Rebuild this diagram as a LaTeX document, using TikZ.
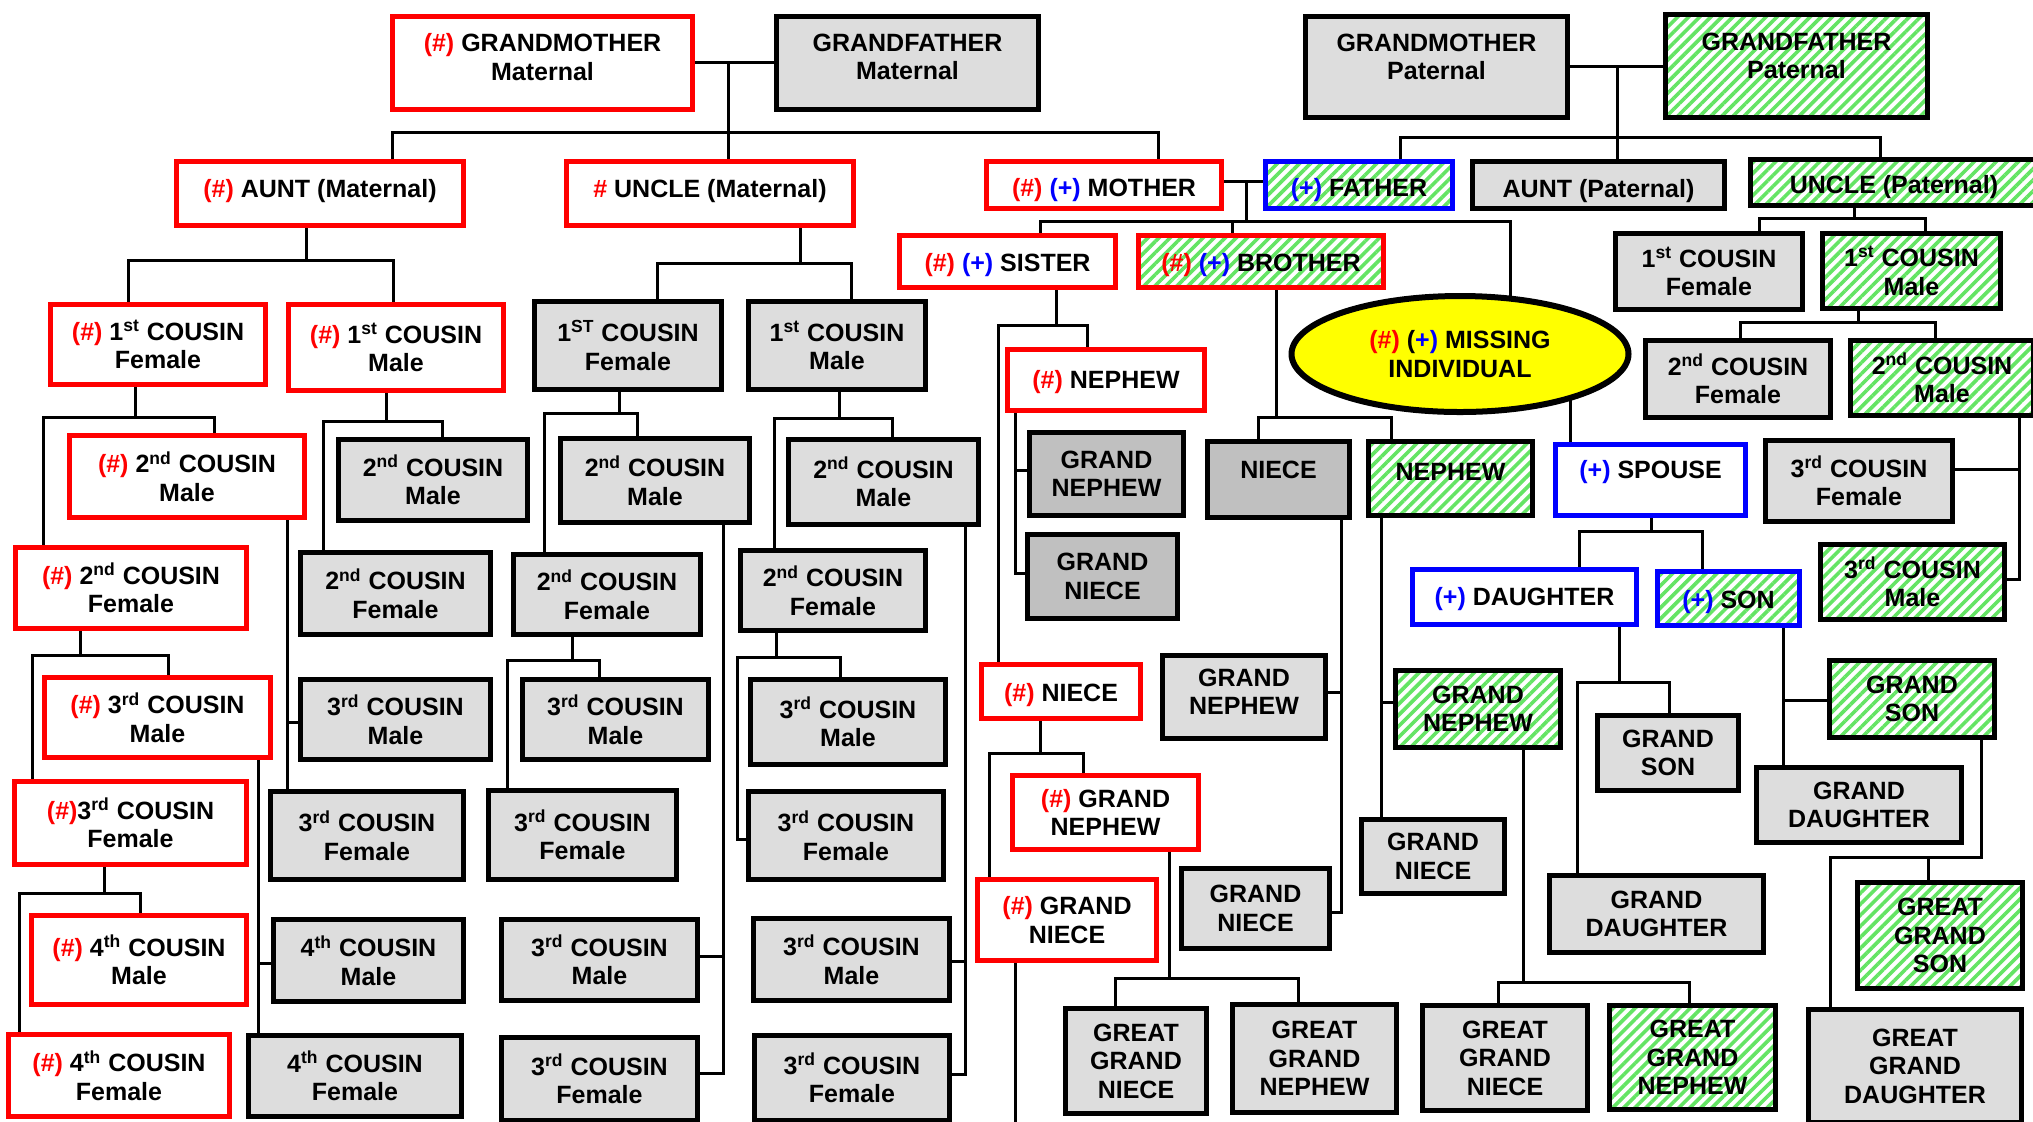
\documentclass[tikz,border=0pt]{standalone}
\usepackage{fontspec}
\setmainfont{Liberation Sans}
\usetikzlibrary{shapes.geometric,patterns.meta,calc}
\pgfdeclarelayer{bg}
\pgfsetlayers{bg,main}
\definecolor{hred}{RGB}{255,0,0}
\definecolor{hblue}{RGB}{0,0,255}
\definecolor{lgray}{RGB}{221,221,221}
\definecolor{dgray}{RGB}{192,192,192}
\definecolor{sgreen}{RGB}{100,228,100}
\definecolor{hyel}{RGB}{255,255,0}
\newcommand\redt[1]{\textcolor{hred}{#1}}
\newcommand\bluet[1]{\textcolor{hblue}{#1}}
\newcommand\sups[1]{\textsuperscript{#1}}
\tikzset{
  box/.style={rectangle, line width=2.5pt, inner sep=0pt},
  redb/.style={box, draw=hred, fill=white},
  blueb/.style={box, draw=hblue, fill=white},
  grayb/.style={box, draw=black, fill=lgray},
  dgrayb/.style={box, draw=black, fill=dgray},
  stripe/.style={preaction={fill=white}, pattern={Lines[angle=45,distance=3.9pt,line width=1.8pt]}, pattern color=sgreen},
  greenb/.style={box, draw=black, stripe},
  redgreenb/.style={box, draw=hred, stripe},
  bluegreenb/.style={box, draw=hblue, stripe},
  txt/.style={align=center, inner sep=0pt, font=\bfseries\fontsize{12.5}{14.25}\selectfont},
  conn/.style={draw=black, line width=1.5pt},
}
% #1 dy (px, down), #2 style, #3 name, #4 x1, #5 y1, #6 x2, #7 y2, #8 text
\newcommand\bx[8][0]{%
  \pgfmathsetmacro\bw{(#6-#4)*0.5-2.5}%
  \pgfmathsetmacro\bh{(#7-#5)*0.5-2.5}%
  \pgfmathsetmacro\bdy{-0.5*(#1)}%
  \node[#2, minimum width=\bw pt, minimum height=\bh pt] (#3) at ({(#4+#6)/2},{(#5+#7)/2}) {};
  \node[txt] (#3-t) at ([yshift=\bdy pt]#3.center) {#8};
}
\begin{document}
\begin{tikzpicture}[x=0.5pt,y=-0.5pt]
\useasboundingbox (0,0) rectangle (2033,1121);
% ---- top generations
\bx[-6]{redb}{gmm}{390}{14}{695}{112}{\redt{(\#)} GRANDMOTHER\\Maternal}
\bx[-6]{grayb}{gfm}{774}{14}{1041}{112}{GRANDFATHER\\Maternal}
\bx[-10]{grayb}{gmp}{1303}{14}{1570}{120}{GRANDMOTHER\\Paternal}
\bx[-10]{greenb}{gfp}{1663}{12}{1930}{120}{GRANDFATHER\\Paternal}
\bx[-2]{redb}{auntm}{174}{159}{466}{228}{\redt{(\#)} AUNT (Maternal)}
\bx[-2]{redb}{unclem}{564}{159}{856}{228}{\redt{\#} UNCLE (Maternal)}
\bx[5]{redb}{mother}{984}{159}{1224}{211}{\redt{(\#)} \bluet{(+)} MOTHER}
\bx[5]{bluegreenb}{father}{1263}{159}{1455}{211}{\bluet{(+)} FATHER}
\bx[6]{grayb}{auntp}{1470}{159}{1727}{211}{AUNT (Paternal)}
\bx[5]{greenb}{unclep}{1748}{157}{2040}{208}{UNCLE (Paternal)}
\bx[4]{redb}{sister}{897}{233}{1118}{290}{\redt{(\#)} \bluet{(+)} SISTER}
\bx[4]{redgreenb}{brother}{1136}{233}{1386}{290}{\redt{(\#)} \bluet{(+)} BROTHER}
% ---- 1st cousins
\bx{redb}{cf1}{48}{302}{268}{387}{\redt{(\#)} 1\sups{st} COUSIN\\Female}
\bx{redb}{cm1}{286}{302}{506}{393}{\redt{(\#)} 1\sups{st} COUSIN\\Male}
\bx{grayb}{uf1}{532}{299}{724}{392}{1\sups{ST} COUSIN\\Female}
\bx{grayb}{um1}{746}{299}{928}{392}{1\sups{st} COUSIN\\Male}
\bx{grayb}{pf1}{1613}{231}{1805}{312}{1\sups{st} COUSIN\\Female}
\bx{greenb}{pm1}{1820}{231}{2003}{311}{1\sups{st} COUSIN\\Male}
% ---- maternal aunt line
\bx{redb}{f2m}{67}{433}{307}{520}{\redt{(\#)} 2\sups{nd} COUSIN\\Male}
\bx{redb}{f2f}{13}{545}{249}{631}{\redt{(\#)} 2\sups{nd} COUSIN\\Female}
\bx{redb}{f3m}{42}{675}{273}{760}{\redt{(\#)} 3\sups{rd} COUSIN\\Male}
\bx{redb}{f3f}{12}{779}{249}{867}{\redt{(\#)}3\sups{rd} COUSIN\\Female}
\bx{redb}{f4m}{29}{913}{249}{1007}{\redt{(\#)} 4\sups{th} COUSIN\\Male}
\bx{redb}{f4f}{6}{1032}{232}{1119}{\redt{(\#)} 4\sups{th} COUSIN\\Female}
\bx{grayb}{m2m}{336}{437}{530}{523}{2\sups{nd} COUSIN\\Male}
\bx{grayb}{m2f}{298}{550}{493}{637}{2\sups{nd} COUSIN\\Female}
\bx{grayb}{g3m}{298}{677}{493}{762}{3\sups{rd} COUSIN\\Male}
\bx{grayb}{g3f}{268}{789}{466}{882}{3\sups{rd} COUSIN\\Female}
\bx{grayb}{g4m}{271}{917}{466}{1004}{4\sups{th} COUSIN\\Male}
\bx{grayb}{g4f}{246}{1033}{464}{1119}{4\sups{th} COUSIN\\Female}
% ---- maternal uncle line
\bx{grayb}{u2m}{558}{436}{752}{525}{2\sups{nd} COUSIN\\Male}
\bx{grayb}{u2f}{511}{552}{703}{637}{2\sups{nd} COUSIN\\Female}
\bx{grayb}{u3m}{520}{677}{711}{762}{3\sups{rd} COUSIN\\Male}
\bx{grayb}{u3f}{486}{788}{679}{882}{3\sups{rd} COUSIN\\Female}
\bx{grayb}{u3m2}{499}{917}{700}{1003}{3\sups{rd} COUSIN\\Male}
\bx{grayb}{u3f2}{499}{1035}{700}{1123}{3\sups{rd} COUSIN\\Female}
\bx{grayb}{v2m}{786}{437}{981}{527}{2\sups{nd} COUSIN\\Male}
\bx{grayb}{v2f}{738}{548}{928}{633}{2\sups{nd} COUSIN\\Female}
\bx{grayb}{v3m}{748}{677}{948}{767}{3\sups{rd} COUSIN\\Male}
\bx{grayb}{v3f}{746}{789}{946}{882}{3\sups{rd} COUSIN\\Female}
\bx{grayb}{v3m2}{751}{916}{952}{1003}{3\sups{rd} COUSIN\\Male}
\bx{grayb}{v3f2}{752}{1033}{952}{1123}{3\sups{rd} COUSIN\\Female}
% ---- sister line
\bx[2]{redb}{nephr}{1005}{347}{1207}{413}{\redt{(\#)} NEPHEW}
\bx{dgrayb}{gnd1}{1027}{430}{1186}{518}{GRAND\\NEPHEW}
\bx{dgrayb}{gni1}{1025}{532}{1180}{621}{GRAND\\NIECE}
\bx[4]{redb}{niecer}{979}{662}{1143}{721}{\redt{(\#)} NIECE}
\bx{redb}{gnr}{1010}{773}{1201}{852}{\redt{(\#)} GRAND\\NEPHEW}
\bx{redb}{gnir}{975}{877}{1159}{963}{\redt{(\#)} GRAND\\NIECE}
\bx{grayb}{ggn1}{1063}{1006}{1209}{1116}{GREAT\\GRAND\\NIECE}
\bx{grayb}{ggnp1}{1230}{1002}{1399}{1115}{GREAT\\GRAND\\NEPHEW}
% ---- missing individual
\node[ellipse, draw=black, line width=3pt, fill=hyel, minimum width=168.5pt, minimum height=58pt, inner sep=0pt] (mi) at (1460,354) {};
\node[txt] (mi-t) at (mi.center) {\redt{(\#)} (\bluet{+)} MISSING\\INDIVIDUAL};
% ---- brother line
\bx[-10]{dgrayb}{nieceb}{1205}{439}{1352}{520}{NIECE}
\bx[-7]{greenb}{nephb}{1366}{439}{1535}{518}{NEPHEW}
\bx[-5]{grayb}{gn2}{1160}{653}{1328}{741}{GRAND\\NEPHEW}
\bx{grayb}{gni2}{1179}{866}{1332}{951}{GRAND\\NIECE}
\bx{greenb}{gn3}{1393}{668}{1563}{750}{GRAND\\NEPHEW}
\bx{grayb}{gni3}{1359}{817}{1507}{896}{GRAND\\NIECE}
\bx{grayb}{ggni3}{1420}{1003}{1590}{1113}{GREAT\\GRAND\\NIECE}
\bx{greenb}{ggnp3}{1607}{1003}{1778}{1112}{GREAT\\GRAND\\NEPHEW}
% ---- own family
\bx[-8]{blueb}{spouse}{1553}{442}{1748}{518}{\bluet{(+)} SPOUSE}
\bx[2]{blueb}{daughter}{1410}{567}{1639}{627}{\bluet{(+)} DAUGHTER}
\bx[4]{bluegreenb}{son}{1655}{569}{1802}{628}{\bluet{(+)} SON}
\bx{grayb}{gs1}{1595}{713}{1741}{793}{GRAND\\SON}
\bx{grayb}{gd1}{1547}{873}{1766}{955}{GRAND\\DAUGHTER}
\bx{greenb}{gs2}{1827}{658}{1997}{740}{GRAND\\SON}
\bx{grayb}{gd2}{1754}{765}{1964}{845}{GRAND\\DAUGHTER}
\bx{greenb}{ggs}{1855}{880}{2025}{991}{GREAT\\GRAND\\SON}
\bx{grayb}{ggd}{1806}{1007}{2024}{1125}{GREAT\\GRAND\\DAUGHTER}
% ---- paternal cousins
\bx{grayb}{pf2}{1643}{338}{1833}{420}{2\sups{nd} COUSIN\\Female}
\bx{greenb}{pm2}{1848}{338}{2036}{418}{2\sups{nd} COUSIN\\Male}
\bx{grayb}{pf3}{1763}{438}{1955}{524}{3\sups{rd} COUSIN\\Female}
\bx{greenb}{pm3}{1818}{542}{2007}{622}{3\sups{rd} COUSIN\\Male}
% ================= connectors
\begin{pgfonlayer}{bg}
\coordinate (gmJ) at (728,62); \coordinate (gmL) at (392,132); \coordinate (gmR) at (1158,132);
\draw[conn] (gmm.east |- gmJ) -- (gfm.west |- gmJ);
\draw[conn] (gmJ) -- (unclem.north -| gmJ);
\draw[conn] (auntm.north -| gmL) -- (gmL) -- (gmR) -- (mother.north -| gmR);
\coordinate (gpJ) at (1617,66); \coordinate (gpL) at (1400,137); \coordinate (gpR) at (1880,137);
\draw[conn] (gmp.east |- gpJ) -- (gfp.west |- gpJ);
\draw[conn] (gpJ) -- (auntp.north -| gpJ);
\draw[conn] (father.north -| gpL) -- (gpL) -- (gpR) -- (unclep.north -| gpR);
\coordinate (pJ) at (1246,181); \coordinate (pL) at (1040,221); \coordinate (pM) at (1232,221); \coordinate (pR) at (1510,221);
\draw[conn] (mother.east |- pJ) -- (father.west |- pJ);
\draw[conn] (pJ) -- (pJ |- pL);
\draw[conn] (sister.north -| pL) -- (pL) -- (pR) -- (mi.center -| pR);
\draw[conn] (brother.north -| pM) -- (pM);
\coordinate (aJ) at (306,260); \coordinate (aL) at (128,260); \coordinate (aR) at (393,260);
\draw[conn] (auntm.south -| aJ) -- (aJ);
\draw[conn] (cf1.north -| aL) -- (aL) -- (aR) -- (cm1.north -| aR);
\coordinate (uJ) at (800,263); \coordinate (uL) at (657,263); \coordinate (uR) at (851,263);
\draw[conn] (unclem.south -| uJ) -- (uJ);
\draw[conn] (uf1.north -| uL) -- (uL) -- (uR) -- (um1.north -| uR);
\coordinate (c1J) at (135,417); \coordinate (c1L) at (43,417); \coordinate (c1R) at (214,417);
\draw[conn] (cf1.south -| c1J) -- (c1J);
\draw[conn] (f2f.north -| c1L) -- (c1L) -- (c1R) -- (f2m.north -| c1R);
\coordinate (c2J) at (80,655); \coordinate (c2L) at (32,655); \coordinate (c2R) at (168,655);
\draw[conn] (f2f.south -| c2J) -- (c2J);
\draw[conn] (f3f.north -| c2L) -- (c2L) -- (c2R) -- (f3m.north -| c2R);
\coordinate (c3J) at (104,893); \coordinate (c3L) at (19,893); \coordinate (c3R) at (140,893);
\draw[conn] (f3f.south -| c3J) -- (c3J);
\draw[conn] (f4f.north -| c3L) -- (c3L) -- (c3R) -- (f4m.north -| c3R);
\coordinate (d1J) at (386,421); \coordinate (d1L) at (323,421); \coordinate (d1R) at (442,421);
\draw[conn] (cm1.south -| d1J) -- (d1J);
\draw[conn] (m2f.north -| d1L) -- (d1L) -- (d1R) -- (m2m.north -| d1R);
\coordinate (e1) at (287,722);
\draw[conn] (f2m.south -| e1) -- (g3f.north -| e1);
\draw[conn] (e1) -- (g3m.west |- e1);
\coordinate (e2) at (258,963);
\draw[conn] (f3m.south -| e2) -- (g4f.north -| e2);
\draw[conn] (e2) -- (g4m.west |- e2);
\coordinate (h1J) at (619,413); \coordinate (h1L) at (544,413); \coordinate (h1R) at (637,413);
\draw[conn] (uf1.south -| h1J) -- (h1J);
\draw[conn] (u2f.north -| h1L) -- (h1L) -- (h1R) -- (u2m.north -| h1R);
\coordinate (h2J) at (572,660); \coordinate (h2L) at (507,660); \coordinate (h2R) at (599,660);
\draw[conn] (u2f.south -| h2J) -- (h2J);
\draw[conn] (u3f.north -| h2L) -- (h2L) -- (h2R) -- (u3m.north -| h2R);
\coordinate (k1) at (723,956); \coordinate (k2) at (723,1073);
\draw[conn] (u2m.south -| k1) -- (k2) -- (u3f2.east |- k2);
\draw[conn] (k1) -- (u3m2.east |- k1);
\coordinate (i1J) at (839,418); \coordinate (i1L) at (774,418); \coordinate (i1R) at (892,418);
\draw[conn] (um1.south -| i1J) -- (i1J);
\draw[conn] (v2f.north -| i1L) -- (i1L) -- (i1R) -- (v2m.north -| i1R);
\coordinate (i2J) at (776,657); \coordinate (i2L) at (737,657); \coordinate (i2R) at (840,657); \coordinate (i2B) at (737,839);
\draw[conn] (v2f.south -| i2J) -- (i2J);
\draw[conn] (v3f.west |- i2B) -- (i2B) -- (i2L) -- (i2R) -- (v3m.north -| i2R);
\coordinate (k3) at (965,961); \coordinate (k4) at (965,1074);
\draw[conn] (v2m.south -| k3) -- (k4) -- (v3f2.east |- k4);
\draw[conn] (k3) -- (v3m2.east |- k3);
\coordinate (sJ) at (1056,325); \coordinate (sL) at (998,325); \coordinate (sR) at (1087,325);
\draw[conn] (sister.south -| sJ) -- (sJ);
\draw[conn] (niecer.north -| sL) -- (sL) -- (sR) -- (nephr.north -| sR);
\coordinate (n1) at (1015,470); \coordinate (n2) at (1015,573);
\draw[conn] (nephr.south -| n1) -- (n2) -- (gni1.west |- n2);
\draw[conn] (n1) -- (gnd1.west |- n1);
\coordinate (r1J) at (1040,753); \coordinate (r1L) at (989,753); \coordinate (r1R) at (1083,753);
\draw[conn] (niecer.south -| r1J) -- (r1J);
\draw[conn] (gnir.north -| r1L) -- (r1L) -- (r1R) -- (gnr.north -| r1R);
\coordinate (r2J) at (1169,978); \coordinate (r2L) at (1115,978); \coordinate (r2R) at (1298,978);
\draw[conn] (gnr.south -| r2J) -- (r2J);
\draw[conn] (ggn1.north -| r2L) -- (r2L) -- (r2R) -- (ggnp1.north -| r2R);
\coordinate (r3) at (1015,1125);
\draw[conn] (gnir.south -| r3) -- (r3);
\coordinate (bJ) at (1276,417); \coordinate (bL) at (1258,417); \coordinate (bR) at (1391,417);
\draw[conn] (brother.south -| bJ) -- (bJ);
\draw[conn] (nieceb.north -| bL) -- (bL) -- (bR) -- (nephb.north -| bR);
\coordinate (q1) at (1341,692); \coordinate (q2) at (1341,912);
\draw[conn] (nieceb.south -| q1) -- (q2) -- (gni2.east |- q2);
\draw[conn] (q1) -- (gn2.east |- q1);
\coordinate (q3) at (1381,702);
\draw[conn] (nephb.south -| q3) -- (gni3.north -| q3);
\draw[conn] (q3) -- (gn3.west |- q3);
\coordinate (q4J) at (1523,982); \coordinate (q4L) at (1498,982); \coordinate (q4R) at (1689,982);
\draw[conn] (gn3.south -| q4J) -- (q4J);
\draw[conn] (ggni3.north -| q4L) -- (q4L) -- (q4R) -- (ggnp3.north -| q4R);
\coordinate (mJ) at (1570,400);
\draw[conn] (mi.center -| mJ) -- (spouse.north -| mJ);
\coordinate (sp1J) at (1651,531); \coordinate (sp1L) at (1579,531); \coordinate (sp1R) at (1702,531);
\draw[conn] (spouse.south -| sp1J) -- (sp1J);
\draw[conn] (daughter.north -| sp1L) -- (sp1L) -- (sp1R) -- (son.north -| sp1R);
\coordinate (dJ) at (1619,682); \coordinate (dL) at (1577,682); \coordinate (dR) at (1669,682);
\draw[conn] (daughter.south -| dJ) -- (dJ);
\draw[conn] (gd1.north -| dL) -- (dL) -- (dR) -- (gs1.north -| dR);
\coordinate (o1) at (1783,700);
\draw[conn] (son.south -| o1) -- (gd2.north -| o1);
\draw[conn] (o1) -- (gs2.west |- o1);
\coordinate (g1) at (1981,857); \coordinate (g2) at (1830,857); \coordinate (g3) at (1928,857);
\draw[conn] (gs2.south -| g1) -- (g1) -- (g2) -- (ggd.north -| g2);
\draw[conn] (g3) -- (ggs.north -| g3);
\coordinate (t1J) at (1854,218); \coordinate (t1L) at (1759,218); \coordinate (t1R) at (1925,218);
\draw[conn] (unclep.south -| t1J) -- (t1J);
\draw[conn] (pf1.north -| t1L) -- (t1L) -- (t1R) -- (pm1.north -| t1R);
\coordinate (t2J) at (1858,322); \coordinate (t2L) at (1740,322); \coordinate (t2R) at (1935,322);
\draw[conn] (pm1.south -| t2J) -- (t2J);
\draw[conn] (pf2.north -| t2L) -- (t2L) -- (t2R) -- (pm2.north -| t2R);
\coordinate (t3) at (2019,469); \coordinate (t4) at (2019,579);
\draw[conn] (pm2.south -| t3) -- (t4) -- (pm3.east |- t4);
\draw[conn] (t3) -- (pf3.east |- t3);
\end{pgfonlayer}
\end{tikzpicture}
\end{document}
